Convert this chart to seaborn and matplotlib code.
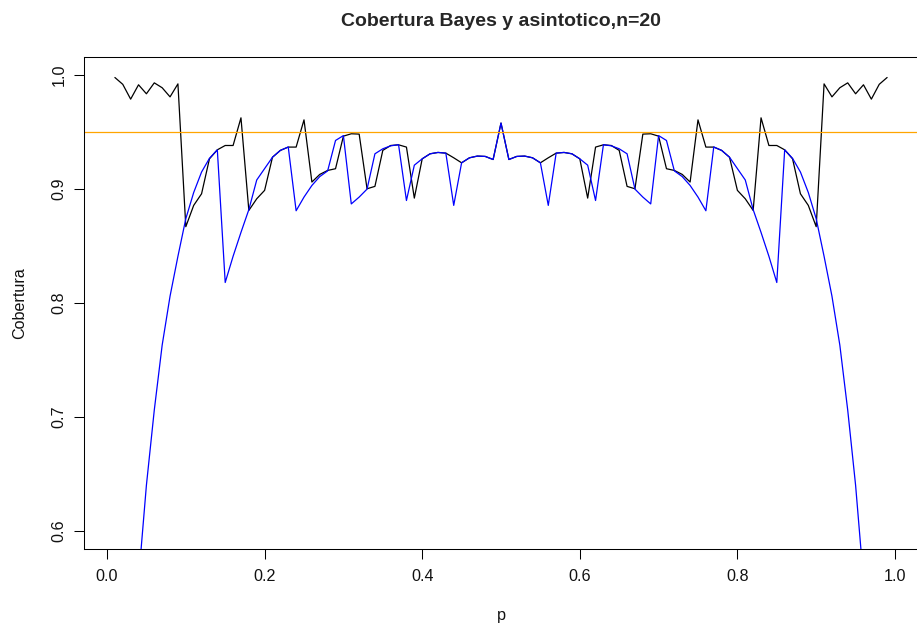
import numpy as np
import pandas as pd
import matplotlib
matplotlib.use("Agg")
import matplotlib.pyplot as plt
import seaborn as sns

# Probability grid
p = [0.01, 0.02, 0.03, 0.04, 0.05, 0.06, 0.07, 0.08, 0.09, 0.10,
     0.11, 0.12, 0.13, 0.14, 0.15, 0.16, 0.17, 0.18, 0.19, 0.20,
     0.21, 0.22, 0.23, 0.24, 0.25, 0.26, 0.27, 0.28, 0.29, 0.30,
     0.31, 0.32, 0.33, 0.34, 0.35, 0.36, 0.37, 0.38, 0.39, 0.40,
     0.41, 0.42, 0.43, 0.44, 0.45, 0.46, 0.47, 0.48, 0.49, 0.50,
     0.51, 0.52, 0.53, 0.54, 0.55, 0.56, 0.57, 0.58, 0.59, 0.60,
     0.61, 0.62, 0.63, 0.64, 0.65, 0.66, 0.67, 0.68, 0.69, 0.70,
     0.71, 0.72, 0.73, 0.74, 0.75, 0.76, 0.77, 0.78, 0.79, 0.80,
     0.81, 0.82, 0.83, 0.84, 0.85, 0.86, 0.87, 0.88, 0.89, 0.90,
     0.91, 0.92, 0.93, 0.94, 0.95, 0.96, 0.97, 0.98, 0.99]

# Coverage of the Bayes interval (black)
cob_bayes = [0.998, 0.992, 0.979, 0.9916, 0.9837, 0.9933, 0.989, 0.981, 0.9924, 0.867,
             0.8857, 0.8959, 0.9266, 0.9345, 0.9383, 0.9383, 0.9626, 0.8813, 0.8915, 0.8989,
             0.928, 0.934, 0.9369, 0.9369, 0.9608, 0.9062, 0.9129, 0.9164, 0.9179, 0.9465,
             0.9486, 0.9483, 0.9003, 0.9024, 0.934, 0.9383, 0.9389, 0.9369, 0.8921, 0.9266,
             0.931, 0.9322, 0.9316, 0.9275, 0.9231, 0.9275, 0.929, 0.9287, 0.926, 0.958,
             0.926, 0.9287, 0.929, 0.9275, 0.9231, 0.9275, 0.9316, 0.9322, 0.931, 0.9266,
             0.8921, 0.9369, 0.9389, 0.9383, 0.934, 0.9024, 0.9003, 0.9483, 0.9486, 0.9465,
             0.9179, 0.9164, 0.9129, 0.9062, 0.9608, 0.9369, 0.9369, 0.934, 0.928, 0.8989,
             0.8915, 0.8813, 0.9626, 0.9383, 0.9383, 0.9345, 0.9266, 0.8959, 0.8857, 0.867,
             0.9924, 0.981, 0.989, 0.9933, 0.9837, 0.9916, 0.979, 0.992, 0.998]

# Coverage of the asymptotic (Wald) interval (blue)
cob_asint = [0.182, 0.332, 0.456, 0.557, 0.640, 0.706, 0.763, 0.806, 0.841, 0.874,
             0.897, 0.915, 0.927, 0.9345, 0.818, 0.841, 0.862, 0.882, 0.908, 0.918,
             0.928, 0.934, 0.937, 0.881, 0.893, 0.9032, 0.911, 0.916, 0.9427, 0.947,
             0.887, 0.893, 0.900, 0.931, 0.9354, 0.938, 0.939, 0.890, 0.921, 0.9266,
             0.931, 0.9322, 0.9316, 0.8857, 0.9231, 0.9275, 0.929, 0.9287, 0.926, 0.958,
             0.926, 0.9287, 0.929, 0.9275, 0.9231, 0.8857, 0.9316, 0.9322, 0.931, 0.9266,
             0.921, 0.890, 0.939, 0.938, 0.9354, 0.931, 0.900, 0.893, 0.887, 0.947,
             0.9427, 0.916, 0.911, 0.9032, 0.893, 0.881, 0.937, 0.934, 0.928, 0.918,
             0.908, 0.882, 0.862, 0.841, 0.818, 0.9345, 0.927, 0.915, 0.897, 0.874,
             0.841, 0.806, 0.763, 0.706, 0.640, 0.557, 0.456, 0.332, 0.182]

nivel = 0.95
x_ticks = [0.0, 0.2, 0.4, 0.6, 0.8, 1.0]
x_labels = ["0.0", "0.2", "0.4", "0.6", "0.8", "1.0"]
y_ticks = [0.6, 0.7, 0.8, 0.9, 1.0]
y_labels = ["0.6", "0.7", "0.8", "0.9", "1.0"]

sns.set_theme(style="white")
plt.rcParams["font.family"] = ["Liberation Sans", "DejaVu Sans"]
plt.rcParams["axes.linewidth"] = 0.75

W, H = 917, 628
fig = plt.figure(figsize=(W / 100, H / 100), dpi=100)
left_px, right_px, top_px, bottom_px = 84, 918, 57, 549
ax = fig.add_axes([left_px / W, 1 - bottom_px / H,
                   (right_px - left_px) / W, (bottom_px - top_px) / H])

df = pd.DataFrame({"p": p, "bayes": cob_bayes, "asint": cob_asint})
sns.lineplot(data=df, x="p", y="bayes", color="black", lw=0.9,
             estimator=None, sort=False, ax=ax)
sns.lineplot(data=df, x="p", y="asint", color="#0000FF", lw=0.9,
             estimator=None, sort=False, ax=ax)
ax.axhline(nivel, color="#FFA500", lw=0.9)

ax.set_xlim(-0.0292, 1.0292)
ax.set_ylim(0.584, 1.016)
ax.set_xticks(x_ticks)
ax.set_xticklabels(x_labels)
ax.set_yticks(y_ticks)
ax.set_yticklabels(y_labels, rotation=90, va="center")
ax.tick_params(axis="both", direction="out", length=7.2, width=0.75,
               color="black", labelsize=11.6, labelcolor="#111111",
               bottom=True, left=True)
ax.tick_params(axis="x", pad=7.0)
ax.tick_params(axis="y", pad=5.5)
for s in ax.spines.values():
    s.set_visible(True)
    s.set_color("black")
    s.set_linewidth(0.75)
ax.grid(False)

ax.set_xlabel("p", fontsize=11.6, color="#111111")
ax.set_ylabel("Cobertura", fontsize=11.6, color="#111111")
ax.xaxis.set_label_coords(0.5, -0.1205)
ax.yaxis.set_label_coords(-0.068, 0.5)
ax.set_title("Cobertura Bayes y asintotico,n=20", fontsize=14,
             fontweight="bold", y=1.0636, pad=0)

fig.savefig("out.png", dpi=100)
